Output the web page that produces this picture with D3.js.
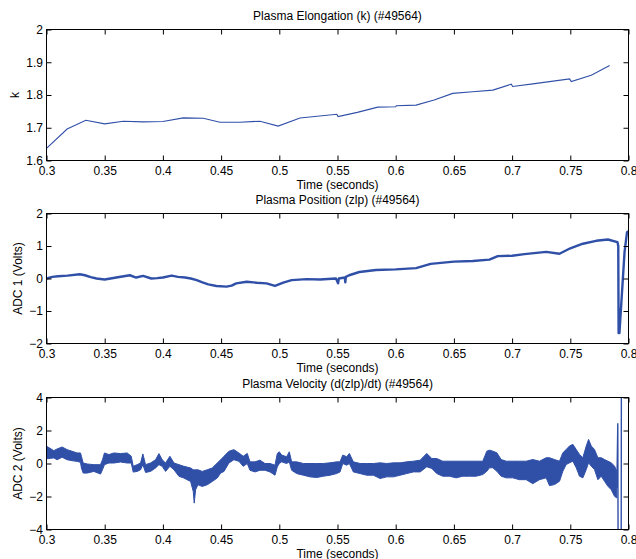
<!DOCTYPE html>
<html><head><meta charset="utf-8">
<script src="https://cdn.jsdelivr.net/npm/d3@7"></script>
<style>
body{margin:0;background:#fff}
text{font-family:"Liberation Sans",Arial,Helvetica,sans-serif;fill:#000}
</style>
</head><body>
<svg id="c" width="636" height="559"></svg>
<script>
// ---------- data ----------
const xTicks = [0.3,0.35,0.4,0.45,0.5,0.55,0.6,0.65,0.7,0.75,0.8];
const xTickLabels = ["0.3","0.35","0.4","0.45","0.5","0.55","0.6","0.65","0.7","0.75","0.8"];

// Panel 1: elongation k
const kTime  = [0.300,0.3177,0.3338,0.350,0.366,0.383,0.400,0.4175,0.4347,0.449,0.466,0.4834,0.499,0.5178,0.5494,0.5505,0.567,0.5846,0.600,0.6005,0.6175,0.633,0.649,0.666,0.6835,0.6993,0.7005,0.7178,0.7494,0.7508,0.768,0.7838];
const kValue = [1.637,1.696,1.723,1.712,1.720,1.718,1.719,1.730,1.729,1.717,1.717,1.720,1.705,1.730,1.741,1.734,1.747,1.763,1.764,1.767,1.769,1.785,1.805,1.810,1.815,1.833,1.826,1.834,1.849,1.841,1.860,1.890];
const kTicks = [1.6,1.7,1.8,1.9,2.0];
const kTickLabels = ["1.6","1.7","1.8","1.9","2"];

// Panel 2: position zlp
const posTime  = [0.300,0.305,0.310,0.318,0.3286,0.333,0.338,0.343,0.350,0.355,0.360,0.3716,0.377,0.383,0.390,0.395,0.400,0.4075,0.413,0.419,0.424,0.429,0.434,0.439,0.446,0.4547,0.459,0.463,0.472,0.4806,0.489,0.4963,0.5034,0.5106,0.5235,0.535,0.5487,0.5505,0.5512,0.5563,0.5567,0.5572,0.560,0.5688,0.5831,0.600,0.6175,0.630,0.650,0.6662,0.6805,0.6877,0.700,0.7106,0.7293,0.7407,0.750,0.7608,0.7722,0.7823,0.7905,0.7912,0.7915,0.7922,0.7966,0.7987,0.800];
const posValue = [0.00,0.05,0.07,0.09,0.13,0.10,0.04,0.00,-0.03,0.00,0.03,0.10,0.03,0.08,0.00,0.01,0.03,0.09,0.05,0.03,0.00,-0.05,-0.12,-0.18,-0.23,-0.25,-0.22,-0.15,-0.10,-0.13,-0.15,-0.23,-0.13,-0.05,-0.02,-0.03,0.00,-0.15,0.00,0.03,-0.12,0.05,0.10,0.20,0.26,0.28,0.32,0.45,0.52,0.54,0.58,0.69,0.70,0.75,0.82,0.76,0.93,1.07,1.16,1.20,1.12,1.00,-1.68,-1.68,0.81,1.42,1.45];
const posTicks = [-2,-1,0,1,2];
const posTickLabels = ["\u22122","\u22121","0","1","2"];

// Panel 3: velocity d(zlp)/dt, envelope of the noisy trace
const velTime = [0.300,0.3063,0.3091,0.3134,0.3177,0.3220,0.3263,0.3292,0.3300,0.3315,0.3349,0.3407,0.3464,0.3481,0.3498,0.3536,0.3579,0.3636,0.3693,0.3728,0.3745,0.3779,0.3808,0.3828,0.3851,0.3894,0.3937,0.3966,0.3994,0.4023,0.4060,0.4095,0.4138,0.4180,0.4238,0.4261,0.4269,0.4281,0.4301,0.4338,0.4381,0.4424,0.4467,0.4496,0.4525,0.4567,0.4610,0.4653,0.4690,0.4725,0.4748,0.4791,0.4834,0.4877,0.4920,0.4963,0.4983,0.5000,0.5020,0.5063,0.5086,0.5106,0.5149,0.5207,0.5264,0.5321,0.5378,0.5436,0.5493,0.5522,0.5545,0.5579,0.5602,0.5636,0.5694,0.5751,0.5808,0.5866,0.5923,0.5980,0.6038,0.6095,0.6152,0.6210,0.6267,0.6310,0.6353,0.6404,0.6462,0.6519,0.6576,0.6634,0.6691,0.6748,0.6783,0.6806,0.6834,0.6869,0.6906,0.6949,0.7006,0.7063,0.7121,0.7178,0.7235,0.7293,0.7321,0.7364,0.7407,0.7436,0.7465,0.7493,0.7522,0.7551,0.7579,0.7608,0.7637,0.7657,0.7680,0.7708,0.7737,0.7766,0.7794,0.7823,0.7852,0.7880,0.7900];
const velHi = [1.05,0.78,0.88,1.00,0.84,0.74,0.64,0.64,0.44,0.03,-0.03,-0.07,-0.07,0.23,0.64,0.54,0.64,0.60,0.64,0.44,-0.17,-0.07,0.03,0.58,-0.07,0.03,0.23,0.60,0.23,0.03,0.44,0.03,-0.07,-0.17,-0.27,-0.38,-0.38,-0.38,-0.38,-0.48,-0.38,-0.27,0.03,0.23,0.44,0.74,0.84,0.64,0.44,0.61,0.10,0.10,0.20,0.00,0.00,-0.10,0.61,0.71,0.51,0.41,0.71,0.10,0.10,0.00,0.00,0.00,0.00,0.04,0.10,0.10,0.51,0.41,0.61,0.10,0.00,0.00,0.00,0.04,0.00,0.04,0.04,0.10,0.14,0.20,0.61,0.30,0.30,0.14,0.14,0.14,0.14,0.14,0.14,0.14,0.75,0.81,0.75,0.65,0.24,0.14,0.14,0.14,0.14,0.24,0.14,0.35,0.35,0.24,0.14,0.65,0.85,1.06,1.16,0.85,0.55,0.35,1.06,1.46,1.06,0.85,0.35,0.35,0.24,0.14,0.04,-0.16,-0.47];
const velLo = [0.29,0.34,0.23,0.38,0.23,0.17,0.13,0.07,-0.27,-0.58,-0.58,-0.48,-0.64,-0.38,-0.07,0.03,0.03,0.09,0.03,0.03,-0.52,-0.48,-0.38,-0.07,-0.54,-0.48,-0.27,-0.07,-0.17,-0.48,-0.17,-0.38,-0.78,-0.88,-1.09,-1.70,-2.40,-1.59,-1.29,-1.39,-1.29,-1.09,-0.88,-0.58,-0.48,0.03,0.23,0.13,-0.17,0.00,-0.41,-0.51,-0.41,-0.41,-0.51,-0.71,-0.20,0.00,0.10,0.00,0.10,-0.41,-0.61,-0.71,-0.81,-0.85,-0.77,-0.71,-0.61,-0.51,0.00,-0.10,0.00,-0.51,-0.61,-0.71,-0.71,-0.91,-0.81,-0.81,-0.71,-0.61,-0.51,-0.51,-0.20,-0.30,-0.61,-0.77,-0.77,-0.87,-0.77,-0.77,-0.77,-0.67,-0.47,-0.26,-0.26,-0.47,-0.77,-0.87,-0.87,-0.98,-0.98,-1.22,-0.98,-0.87,-1.34,-1.28,-1.08,-0.47,-0.06,0.04,0.14,-0.26,-0.77,-0.87,-0.37,0.04,-0.16,-0.37,-0.98,-0.77,-1.08,-1.38,-1.59,-1.99,-2.09];
// end of the trace: values run off the axis range
const velTailTime  = [0.7900,0.7908,0.7911,0.7925,0.7937,0.7939,0.8000];
const velTailValue = [-1.50,2.44,-6.00,-6.00,-6.00,6.00,6.00];
const velTicks = [-4,-2,0,2,4];
const velTickLabels = ["\u22124","\u22122","0","2","4"];

// ---------- drawing ----------
const svg = d3.select("#c");
const lineColor = "#3050a8";
const x = d3.scaleLinear().domain([0.3, 0.8]).range([46.5, 628.5]);

function panel(opt) {
  const y = d3.scaleLinear().domain(opt.domain).range([opt.bottom, opt.top]);
  const g = svg.append("g");
  const cid = "clip" + opt.id;
  svg.append("defs").append("clipPath").attr("id", cid)
    .append("rect").attr("x", 46.5).attr("y", opt.top)
    .attr("width", 582).attr("height", opt.bottom - opt.top);

  const data = g.append("g").attr("clip-path", "url(#" + cid + ")");
  opt.draw(data, y);

  // axes with inward ticks on all four sides
  const bottomAxis = d3.axisBottom(x).tickValues(xTicks)
    .tickFormat((d, i) => xTickLabels[i]).tickSizeInner(-5).tickSizeOuter(0).tickPadding(5.5);
  const topAxis = d3.axisTop(x).tickValues(xTicks).tickFormat("").tickSizeInner(-5).tickSizeOuter(0);
  const leftAxis = d3.axisLeft(y).tickValues(opt.ticks)
    .tickFormat((d, i) => opt.tickLabels[i]).tickSizeInner(-5).tickSizeOuter(0).tickPadding(3.5);
  const rightAxis = d3.axisRight(y).tickValues(opt.ticks).tickFormat("").tickSizeInner(-5).tickSizeOuter(0);

  const gb = g.append("g").attr("transform", `translate(0,${opt.bottom})`).call(bottomAxis);
  const gt = g.append("g").attr("transform", `translate(0,${opt.top})`).call(topAxis);
  const gl = g.append("g").attr("transform", `translate(46.5,0)`).call(leftAxis);
  const gr = g.append("g").attr("transform", `translate(628.5,0)`).call(rightAxis);
  [gb, gt, gl, gr].forEach(a => {
    a.select(".domain").remove();
    a.selectAll("text").style("font-family", '"Liberation Sans",Arial,sans-serif').style("font-size", "12px").attr("fill", "#000");
    a.selectAll("line").attr("stroke", "#000");
  });
  g.append("rect").attr("x", 46.5).attr("y", opt.top).attr("width", 582).attr("height", opt.bottom - opt.top)
    .attr("fill", "none").attr("stroke", "#000").attr("stroke-width", 1);

  g.append("text").attr("x", 337.5).attr("y", opt.titleY).attr("text-anchor", "middle")
    .style("font-size", "12px").text(opt.title);
  g.append("text").attr("x", 337.5).attr("y", opt.bottom + 28).attr("text-anchor", "middle")
    .style("font-size", "12px").text("Time (seconds)");
  g.append("text").attr("transform", `translate(${opt.ylabelX},${(opt.top + opt.bottom) / 2}) rotate(-90)`)
    .attr("text-anchor", "middle").style("font-size", "12px").text(opt.ylabel);
}

panel({
  id: 1, top: 29.5, bottom: 160.5, domain: [1.6, 2.0], ticks: kTicks, tickLabels: kTickLabels,
  title: "Plasma Elongation (k) (#49564)", titleY: 20, ylabel: "k", ylabelX: 18.5,
  draw: (g, y) => {
    const pts = kTime.map((t, i) => [t, kValue[i]]);
    g.append("path").attr("d", d3.line().x(d => x(d[0])).y(d => y(d[1]))(pts))
      .attr("fill", "none").attr("stroke", lineColor).attr("stroke-width", 1.1);
  }
});

panel({
  id: 2, top: 213.5, bottom: 343.5, domain: [-2, 2], ticks: posTicks, tickLabels: posTickLabels,
  title: "Plasma Position (zlp) (#49564)", titleY: 203.5, ylabel: "ADC 1 (Volts)", ylabelX: 22,
  draw: (g, y) => {
    const pts = posTime.map((t, i) => [t, posValue[i]]);
    g.append("path").attr("d", d3.line().x(d => x(d[0])).y(d => y(d[1]))(pts))
      .attr("fill", "none").attr("stroke", lineColor).attr("stroke-width", 2.4).attr("stroke-linejoin", "round");
  }
});

panel({
  id: 3, top: 397.5, bottom: 529.5, domain: [-4, 4], ticks: velTicks, tickLabels: velTickLabels,
  title: "Plasma Velocity (d(zlp)/dt) (#49564)", titleY: 388, ylabel: "ADC 2 (Volts)", ylabelX: 22,
  draw: (g, y) => {
    const idx = velTime.map((t, i) => i);
    const area = d3.area().x(i => x(velTime[i])).y0(i => y(velLo[i])).y1(i => y(velHi[i]));
    g.append("path").attr("d", area(idx)).attr("fill", lineColor)
      .attr("stroke", lineColor).attr("stroke-width", 1).attr("stroke-linejoin", "round");
    const tail = velTailTime.map((t, i) => [t, velTailValue[i]]);
    g.append("path").attr("d", d3.line().x(d => x(d[0])).y(d => y(d[1]))(tail))
      .attr("fill", "none").attr("stroke", lineColor).attr("stroke-width", 1.4);
  }
});
</script>
</body></html>
